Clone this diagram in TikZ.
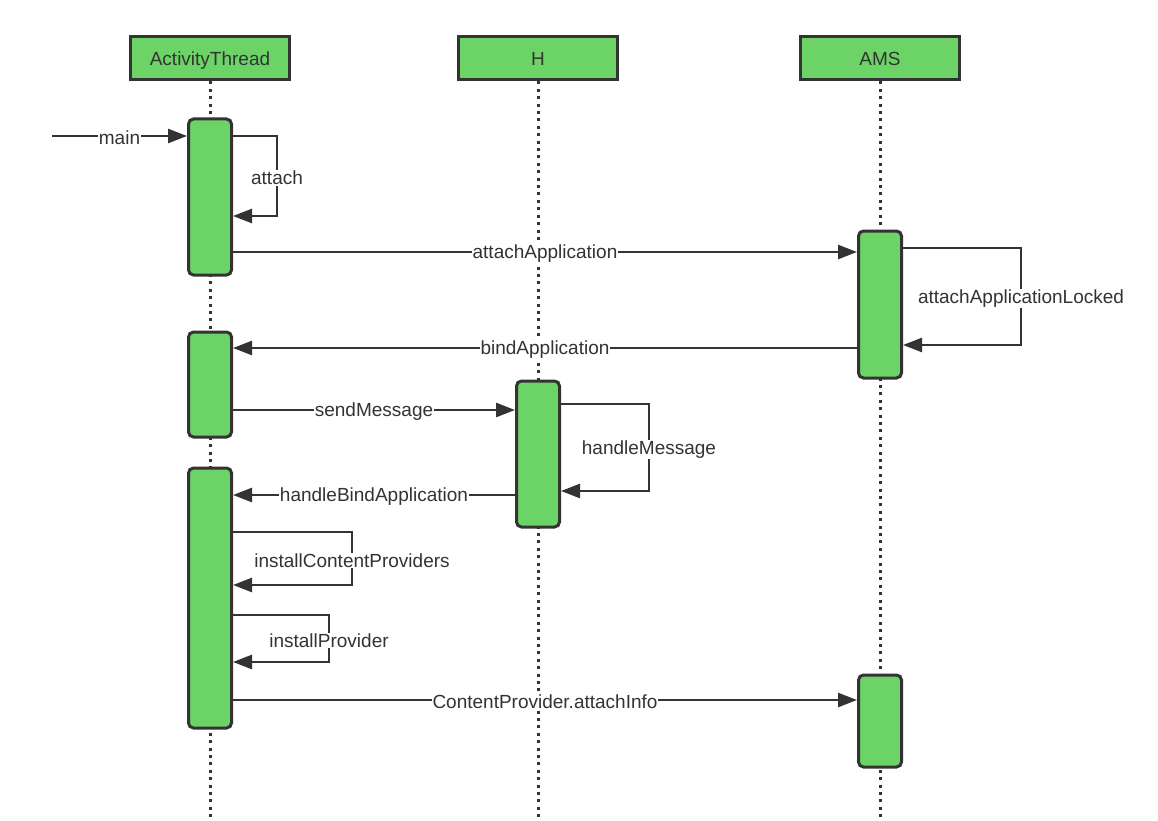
\documentclass[tikz,border=0pt]{standalone}
\usepackage{fontspec}
\setmainfont{Liberation Sans}
\usetikzlibrary{arrows.meta}
\definecolor{ink}{HTML}{333333}
\definecolor{boxgreen}{HTML}{6CD466}
\begin{document}
\begin{tikzpicture}[x=1pt,y=-1pt,
  font=\fontsize{19}{23}\selectfont, text=ink,
  header/.style={draw=ink, line width=3pt, fill=boxgreen, minimum width=159pt, minimum height=43pt, inner sep=0pt, text height=13.7pt, text depth=0pt},
  actbox/.style={draw=ink, line width=3pt, fill=boxgreen, rounded corners=5pt, minimum width=43pt, inner sep=0pt, anchor=north},
  life/.style={draw=ink, line width=3pt, dash pattern=on 3pt off 4.4pt},
  msg/.style={draw=ink, line width=2.6pt, -{Triangle[length=19pt,width=14pt]}},
  lbl/.style={fill=white, inner sep=1pt, text=ink, yshift=-2pt}]
\useasboundingbox (0,0) rectangle (1158,821);
% headers
\node[header] (hat) at (210,58.5) {ActivityThread};
\node[header] (hh) at (538,58.5) {H};
\node[header] (hams) at (880,58.5) {AMS};
% lifeline ends
\coordinate (eat) at (210,821);
\coordinate (eh) at (538,821);
\coordinate (eams) at (880,821);
\draw[life] (hat.south) -- (eat);
\draw[life] (hh.south) -- (eh);
\draw[life] (hams.south) -- (eams);
% activations
\node[actbox, minimum height=156pt] (at1) at (210,117.5) {};
\node[actbox, minimum height=105pt] (at2) at (210,330.5) {};
\node[actbox, minimum height=260pt] (at3) at (210,466.5) {};
\node[actbox, minimum height=146pt] (h1) at (538,379.5) {};
\node[actbox, minimum height=147pt] (ams1) at (880,229.5) {};
\node[actbox, minimum height=92pt] (ams2) at (880,673.5) {};
% messages
\coordinate (start) at (52,136);
\draw[msg] (start) -- node[lbl]{main} (at1.west |- start);
\draw[msg] (at1.east |- 0,136) -- (277,136) -- node[lbl]{attach} (277,216) -- (at1.east |- 0,216);
\draw[msg] (at1.east |- 0,252) -- node[lbl]{attachApplication} (ams1.west |- 0,252);
\draw[msg] (ams1.east |- 0,248) -- (1021,248) -- node[lbl]{attachApplicationLocked} (1021,345) -- (ams1.east |- 0,345);
\draw[msg] (ams1.west |- 0,348) -- node[lbl]{bindApplication} (at2.east |- 0,348);
\draw[msg] (at2.east |- 0,410) -- node[lbl]{sendMessage} (h1.west |- 0,410);
\draw[msg] (h1.east |- 0,404) -- (649,404) -- node[lbl]{handleMessage} (649,491) -- (h1.east |- 0,491);
\draw[msg] (h1.west |- 0,495) -- node[lbl]{handleBindApplication} (at3.east |- 0,495);
\draw[msg] (at3.east |- 0,532) -- (352,532) -- node[lbl]{installContentProviders} (352,585) -- (at3.east |- 0,585);
\draw[msg] (at3.east |- 0,615) -- (329,615) -- node[lbl]{installProvider} (329,662) -- (at3.east |- 0,662);
\draw[msg] (at3.east |- 0,700) -- node[lbl]{ContentProvider.attachInfo} (ams2.west |- 0,700);
\end{tikzpicture}
\end{document}
